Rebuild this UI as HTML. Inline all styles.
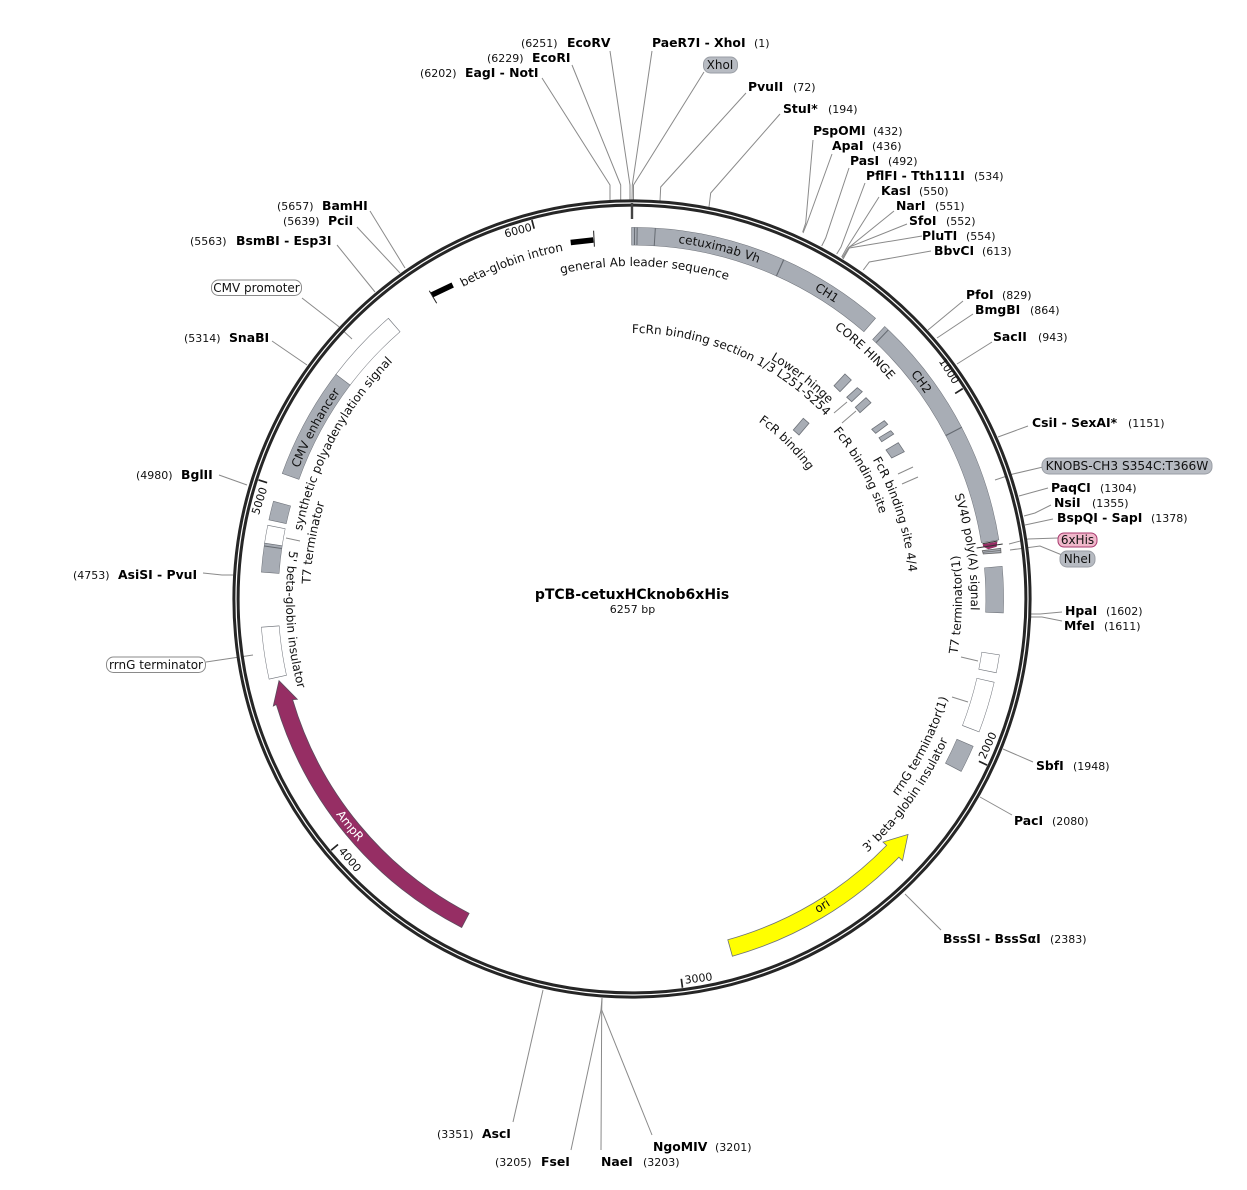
<!DOCTYPE html>
<html><head><meta charset="utf-8">
<style>
html,body{margin:0;padding:0;background:#fff}
svg{display:block}
text{font-family:"DejaVu Sans","Liberation Sans",sans-serif;font-size:11px;fill:#111}
tspan.b,text.b{font-weight:bold;font-size:12.4px;fill:#000}
text.f{font-size:12px}
text.c{text-anchor:middle}
.l{fill:none;stroke:#8a8a8a;stroke-width:1}
.o,.fg,.fy,.fw{fill:none}
.o{stroke:#6d7178;stroke-width:18.3}
.fg{stroke:#a8adb5;stroke-width:17.3}
.fw{stroke:#fff;stroke-width:17.3}
.d{stroke:#666b72;stroke-width:1}
.t{stroke:#222;stroke-width:1.7}
</style></head><body>
<svg width="1247" height="1190" viewBox="0 0 1247 1190" xmlns="http://www.w3.org/2000/svg">
<defs>
<path id="c218" d="M414 599A218 218 0 0 1 850 599"/>
<path id="c262" d="M370 599A262 262 0 0 1 894 599"/>
<path id="c266" d="M366 599A266 266 0 0 1 898 599"/>
<path id="c277" d="M355 599A277 277 0 0 1 909 599"/>
<path id="c278" d="M354 599A278 278 0 0 1 910 599"/>
<path id="c322" d="M310 599A322 322 0 0 1 954 599"/>
<path id="c333" d="M299 599A333 333 0 0 1 965 599"/>
<path id="c337" d="M295 599A337 337 0 0 1 969 599"/>
<path id="c338" d="M294 599A338 338 0 0 1 970 599"/>
<path id="c339" d="M293 599A339 339 0 0 1 971 599"/>
<path id="c355" d="M277 599A355 355 0 0 1 987 599"/>
<path id="c358" d="M274 599A358 358 0 0 1 990 599"/>
<path id="c359" d="M273 599A359 359 0 0 1 991 599"/>
<path id="u330" d="M302 599A330 330 0 0 0 962 599"/>
<path id="u331" d="M301 599A331 331 0 0 0 963 599"/>
<path id="u346" d="M286 599A346 346 0 0 0 978 599"/>
<path id="u365" d="M267 599A365 365 0 0 0 997 599"/>
<path id="u366" d="M266 599A366 366 0 0 0 998 599"/>
</defs>

<!-- site lines -->
<g class="l">
<polyline points="610,51 630,185 630,201"/>
<polyline points="652,51 632.3,185 632,201"/>
<polyline points="704,72 633.5,185 633.5,201"/>
<polyline points="572,65 620.7,185 620.7,202"/>
<polyline points="542,78 610,185 610,203"/>
<polyline points="746,93 660.7,187 660,201"/>
<polyline points="780,114 710.7,193 709,207"/>
<polyline points="813,140 805.7,223 802.7,232"/>
<polyline points="832,154 806.7,224 803,233"/>
<polyline points="849,168 825.7,238 821.7,246"/>
<polyline points="865,183 841,247 836.7,254"/>
<polyline points="879,197 846.7,248 841.7,257"/>
<polyline points="894,211 848.3,248 842.3,258"/>
<polyline points="907,224 849.3,247 843,259"/>
<polyline points="922,236 849.3,248 843,259"/>
<polyline points="931,251 869.3,262 863.3,270"/>
<polyline points="963,301 928,330"/>
<polyline points="973,314 937,338"/>
<polyline points="992,342 957,364"/>
<polyline points="1028,426 998,437"/>
<polyline points="1043,467 1013,474 995,480"/>
<polyline points="1048,488 1019,496"/>
<polyline points="1051,505 1035,513 1024,516"/>
<polyline points="1053,519 1025,525"/>
<polyline points="1058,538 1028,539 1009,544"/>
<polyline points="1062,555 1040,546 1010,550"/>
<polyline points="1062,612 1040,614 1030,614"/>
<polyline points="1062,621 1042,617 1030,617"/>
<polyline points="1033,762 1003,749"/>
<polyline points="1012,815 980,797"/>
<polyline points="941,930 905,894"/>
<polyline points="513,1122 543,990"/>
<polyline points="571,1150 601,1010 602,998"/>
<polyline points="601,1150 601.7,1010 602,998"/>
<polyline points="652,1135 601.7,1010"/>
<polyline points="370,211 405,268"/>
<polyline points="357,227 400,273"/>
<polyline points="337,245 375,292"/>
<polyline points="302,298 338,326 352,339"/>
<polyline points="272,341 307,365"/>
<polyline points="219,475 247,485"/>
<polyline points="203,573 222,575 233,575"/>
<polyline points="206,662 253,655"/>
<polyline points="286,538 300,541"/>
<polyline points="961,657 978,661"/>
<polyline points="952,697 968,702"/>
<polyline points="834,413 847,402"/>
<polyline points="842,423 856,411"/>
<polyline points="898,474 913,467"/>
<polyline points="902,484 918,477"/>
</g>

<!-- backbone -->
<circle cx="632" cy="599" r="396" fill="none" stroke="#262626" stroke-width="7.2"/>
<circle cx="632" cy="599" r="396" fill="none" stroke="#fff" stroke-width="1.2"/>

<!-- ticks -->
<g>
<line x1="632" y1="203" x2="632" y2="219" stroke="#444" stroke-width="2.4"/>
<line class="t" x1="632" y1="207" x2="632" y2="216" transform="rotate(57.54 632 599)"/>
<line class="t" x1="632" y1="207" x2="632" y2="216" transform="rotate(115.07 632 599)"/>
<line class="t" x1="632" y1="207" x2="632" y2="216" transform="rotate(172.6 632 599)"/>
<line class="t" x1="632" y1="207" x2="632" y2="216" transform="rotate(230.14 632 599)"/>
<line class="t" x1="632" y1="207" x2="632" y2="216" transform="rotate(287.68 632 599)"/>
<line class="t" x1="632" y1="207" x2="632" y2="216" transform="rotate(345.2 632 599)"/>
</g>
<text class="c" transform="translate(519 234) rotate(-14.8)">6000</text>
<text class="c" transform="translate(946 373) rotate(57.5)">1000</text>
<text class="c" transform="translate(991 747) rotate(-65)">2000</text>
<text class="c" transform="translate(699 982) rotate(-7.4)">3000</text>
<text class="c" transform="translate(347 862) rotate(50)">4000</text>
<text class="c" transform="translate(263 502) rotate(-72.3)">5000</text>

<!-- features: outlines then fills -->
<g>
<circle class="o" cx="632" cy="599" r="362.75" pathLength="360" stroke-dasharray="24.3 360" transform="rotate(-90.1 632 599)"/>
<circle class="fg" cx="632" cy="599" r="362.75" pathLength="360" stroke-dasharray="24.1 360" transform="rotate(-90 632 599)"/>
<circle class="o" cx="632" cy="599" r="362.75" pathLength="360" stroke-dasharray="17 360" transform="rotate(-66 632 599)"/>
<circle class="fg" cx="632" cy="599" r="362.75" pathLength="360" stroke-dasharray="16.8 360" transform="rotate(-65.9 632 599)"/>
<circle class="o" cx="632" cy="599" r="362.75" pathLength="360" stroke-dasharray="19.8 360" transform="rotate(-47.2 632 599)"/>
<circle class="fg" cx="632" cy="599" r="362.75" pathLength="360" stroke-dasharray="19.6 360" transform="rotate(-47.1 632 599)"/>
<circle class="o" cx="632" cy="599" r="362.75" pathLength="360" stroke-dasharray="18.5 360" transform="rotate(-27.6 632 599)"/>
<circle class="fg" cx="632" cy="599" r="362.75" pathLength="360" stroke-dasharray="18.3 360" transform="rotate(-27.5 632 599)"/>
<circle class="o" cx="632" cy="599" r="362.75" pathLength="360" stroke-dasharray="7.3 360" transform="rotate(-5.1 632 599)"/>
<circle class="fg" cx="632" cy="599" r="362.75" pathLength="360" stroke-dasharray="7.1 360" transform="rotate(-5 632 599)"/>
<circle class="o" cx="632" cy="599" r="362.75" pathLength="360" stroke-dasharray="2.9 360" transform="rotate(8.6 632 599)"/>
<circle class="fw" cx="632" cy="599" r="362.75" pathLength="360" stroke-dasharray="2.7 360" transform="rotate(8.7 632 599)"/>
<circle class="o" cx="632" cy="599" r="362.75" pathLength="360" stroke-dasharray="8.1 360" transform="rotate(12.9 632 599)"/>
<circle class="fw" cx="632" cy="599" r="362.75" pathLength="360" stroke-dasharray="7.9 360" transform="rotate(13 632 599)"/>
<circle class="o" cx="632" cy="599" r="362.75" pathLength="360" stroke-dasharray="4.4 360" transform="rotate(23.3 632 599)"/>
<circle class="fg" cx="632" cy="599" r="362.75" pathLength="360" stroke-dasharray="4.2 360" transform="rotate(23.4 632 599)"/>
<circle class="o" cx="632" cy="599" r="362.75" pathLength="360" stroke-dasharray="12.05 360" transform="rotate(217.05 632 599)"/>
<circle class="fw" cx="632" cy="599" r="362.75" pathLength="360" stroke-dasharray="11.85 360" transform="rotate(217.15 632 599)"/>
<circle class="o" cx="632" cy="599" r="362.75" pathLength="360" stroke-dasharray="17.55 360" transform="rotate(199.7 632 599)"/>
<circle class="fg" cx="632" cy="599" r="362.75" pathLength="360" stroke-dasharray="17.35 360" transform="rotate(199.8 632 599)"/>
<circle class="o" cx="632" cy="599" r="362.75" pathLength="360" stroke-dasharray="3.05 360" transform="rotate(192.25 632 599)"/>
<circle class="fg" cx="632" cy="599" r="362.75" pathLength="360" stroke-dasharray="2.85 360" transform="rotate(192.35 632 599)"/>
<circle class="o" cx="632" cy="599" r="362.75" pathLength="360" stroke-dasharray="2.95 360" transform="rotate(188.55 632 599)"/>
<circle class="fw" cx="632" cy="599" r="362.75" pathLength="360" stroke-dasharray="2.75 360" transform="rotate(188.65 632 599)"/>
<circle class="o" cx="632" cy="599" r="362.75" pathLength="360" stroke-dasharray="4.6 360" transform="rotate(184.1 632 599)"/>
<circle class="fg" cx="632" cy="599" r="362.75" pathLength="360" stroke-dasharray="4.4 360" transform="rotate(184.2 632 599)"/>
<circle class="o" cx="632" cy="599" r="362.75" pathLength="360" stroke-dasharray="8.2 360" transform="rotate(167.5 632 599)"/>
<circle class="fw" cx="632" cy="599" r="362.75" pathLength="360" stroke-dasharray="8 360" transform="rotate(167.6 632 599)"/>
</g>
<!-- dividers -->
<g>
<line class="d" x1="632" y1="227.5" x2="632" y2="245" transform="rotate(0.4 632 599)"/>
<line class="d" x1="632" y1="227.5" x2="632" y2="245" transform="rotate(0.8 632 599)"/>
<line class="d" x1="632" y1="227.5" x2="632" y2="245" transform="rotate(3.6 632 599)"/>
<line class="d" x1="632" y1="227.5" x2="632" y2="245" transform="rotate(24.1 632 599)"/>
<line class="d" x1="632" y1="227.5" x2="632" y2="245" transform="rotate(43.6 632 599)"/>
<line class="d" x1="632" y1="227.5" x2="632" y2="245" transform="rotate(62.5 632 599)"/>
<line class="d" x1="632" y1="227.5" x2="632" y2="245" transform="rotate(278.2 632 599)"/>
</g>

<!-- arrows -->
<path d="M732.4 956.2A371 371 0 0 0 898.9 857.2L902.5 860.7L908 834.4L883 842L886.6 845.4A354 354 0 0 1 727.8 939.8Z" fill="#ffff00" stroke="#6d7178" stroke-width=".8"/>
<path d="M461.7 927.5A370.5 370.5 0 0 1 276.3 704.5L273.3 706L279 680.7L297.3 699.3L292.6 699.6A354 354 0 0 0 469.1 913.3Z" fill="#962e64" stroke="#5c4a5c" stroke-width=".8"/>

<!-- black leader/intron -->
<path d="M570.7 242.5L593.3 240" stroke="#000" stroke-width="5.5" fill="none"/>
<line x1="593.6" y1="230.7" x2="594.4" y2="246.7" stroke="#222" stroke-width="1"/>
<path d="M431.7 295L452.7 285" stroke="#000" stroke-width="5.5" fill="none"/>
<line x1="429.3" y1="290.7" x2="436.7" y2="303.3" stroke="#222" stroke-width="1"/>

<!-- 6xHis & NheI -->
<polygon points="982.3,550.7 1000.7,548.3 1001,552.7 983.3,554" fill="#a8adb5" stroke="#666" stroke-width=".8"/>
<line x1="982.6" y1="552.3" x2="1000.8" y2="550.4" stroke="#666" stroke-width=".6"/>
<polygon points="982.7,544.3 997.3,541.7 996.7,546.7 988.3,549.3 983.3,546.7" fill="#962e64"/>
<line x1="976.7" y1="548" x2="1002.7" y2="544" stroke="#333" stroke-width="1"/>
<line x1="982.5" y1="543.7" x2="997.5" y2="541" stroke="#333" stroke-width="1"/>

<!-- small inner features -->
<g fill="#a8adb5" stroke="#6d7178" stroke-width=".8">
<polygon points="845,374 851.3,380 840,391.7 834,385.7"/>
<polygon points="857.3,387.7 862.3,391.7 851.7,401.7 846.7,397.3"/>
<polygon points="866,397.7 871,402.7 860,412.7 855.3,407.3"/>
<polygon points="884.3,420.7 887.7,424.3 875.7,433.3 871.7,429.3"/>
<polygon points="890.7,430.7 893.7,434 881.7,441.7 879,437.7"/>
<polygon points="898.3,442.7 904.3,451.7 891.7,458 886,450"/>
<polygon points="803.3,418.3 809,423.3 799,435 793.3,430"/>
</g>

<!-- curved labels -->
<text class="f c" transform="rotate(14 632 599)"><textPath href="#c359" startOffset="50%">cetuximab Vh</textPath></text>
<text class="f c" transform="rotate(32.5 632 599)"><textPath href="#c359" startOffset="50%">CH1</textPath></text>
<text class="f c" transform="rotate(53.1 632 599)"><textPath href="#c358" startOffset="50%">CH2</textPath></text>
<text class="f c" transform="rotate(43.2 632 599)"><textPath href="#c338" startOffset="50%">CORE HINGE</textPath></text>
<text class="f c" transform="rotate(2.2 632 599)"><textPath href="#c333" startOffset="50%">general Ab leader sequence</textPath></text>
<text class="f c" transform="rotate(-19.8 632 599)"><textPath href="#c355" startOffset="50%">beta-globin intron</textPath></text>
<text class="f c" transform="rotate(23.3 632 599)"><textPath href="#c266" startOffset="50%">FcRn binding section 1/3 L251-S254</textPath></text>
<text class="f c" transform="rotate(37.6 632 599)"><textPath href="#c277" startOffset="50%">Lower hinge</textPath></text>
<text class="f c" transform="rotate(60.6 632 599)"><textPath href="#c262" startOffset="50%">FcR binding site</textPath></text>
<text class="f c" transform="rotate(72.2 632 599)"><textPath href="#c278" startOffset="50%">FcR binding site 4/4</textPath></text>
<text class="f c" transform="rotate(44.7 632 599)"><textPath href="#c218" startOffset="50%">FcR binding</textPath></text>
<text class="f c" transform="rotate(82 632 599)"><textPath href="#c339" startOffset="50%">SV40 poly(A) signal</textPath></text>
<text class="f c" transform="rotate(298.2 632 599)"><textPath href="#c337" startOffset="50%">synthetic polyadenylation signal</textPath></text>
<text class="f c" transform="rotate(280 632 599)"><textPath href="#c322" startOffset="50%">T7 terminator</textPath></text>
<text class="f c" transform="rotate(298.4 632 599)"><textPath href="#c358" startOffset="50%">CMV enhancer</textPath></text>
<text class="f c" transform="rotate(86.5 632 599)"><textPath href="#u346" startOffset="50%">5' beta-globin insulator</textPath></text>
<text class="f c" transform="rotate(-89 632 599)"><textPath href="#u330" startOffset="50%">T7 terminator(1)</textPath></text>
<text class="f c" transform="rotate(-63 632 599)"><textPath href="#u331" startOffset="50%">rrnG terminator(1)</textPath></text>
<text class="f c" transform="rotate(-54.4 632 599)"><textPath href="#u346" startOffset="50%">3' beta-globin insulator</textPath></text>
<text class="f c" transform="rotate(-31.8 632 599)"><textPath href="#u365" startOffset="50%">ori</textPath></text>
<text class="f c" style="fill:#fff" transform="rotate(51.2 632 599)"><textPath href="#u366" startOffset="50%">AmpR</textPath></text>

<!-- pills -->
<g stroke-width="1">
<rect x="703.5" y="57" width="34" height="16" rx="7" fill="#b7bbc2" stroke="#9a9ea5"/>
<rect x="1042" y="458" width="170" height="16" rx="7" fill="#b7bbc2" stroke="#9a9ea5"/>
<rect x="1060" y="551" width="35" height="16" rx="7" fill="#b7bbc2" stroke="#9a9ea5"/>
<rect x="1058" y="533" width="39" height="14" rx="6" fill="#f0b8cb" stroke="#a8386e"/>
<rect x="211.5" y="280" width="90" height="15.5" rx="7" fill="#fff" stroke="#8a8a8a"/>
<rect x="106.5" y="657" width="99" height="15.5" rx="7" fill="#fff" stroke="#8a8a8a"/>
</g>
<text class="f c" x="720" y="69">XhoI</text>
<text class="f c" style="font-size:12.2px" x="1127" y="470">KNOBS-CH3 S354C:T366W</text>
<text class="f c" x="1077.5" y="563">NheI</text>
<text class="f c" x="1077.5" y="544">6xHis</text>
<text class="f c" x="256.5" y="292">CMV promoter</text>
<text class="f c" x="156" y="669">rrnG terminator</text>

<!-- enzyme labels: left side (number, then name) -->
<text x="521" y="47">(6251)</text><text class="b" x="567" y="47">EcoRV</text>
<text x="487" y="62">(6229)</text><text class="b" x="532" y="62">EcoRI</text>
<text x="420" y="77">(6202)</text><text class="b" x="465" y="77">EagI - NotI</text>
<text x="277" y="210">(5657)</text><text class="b" x="322" y="210">BamHI</text>
<text x="283" y="225">(5639)</text><text class="b" x="328" y="225">PciI</text>
<text x="190" y="245">(5563)</text><text class="b" x="236" y="245">BsmBI - Esp3I</text>
<text x="184" y="342">(5314)</text><text class="b" x="229" y="342">SnaBI</text>
<text x="136" y="479">(4980)</text><text class="b" x="181" y="479">BglII</text>
<text x="73" y="579">(4753)</text><text class="b" x="118" y="579">AsiSI - PvuI</text>
<text x="437" y="1138">(3351)</text><text class="b" x="482" y="1138">AscI</text>
<text x="495" y="1166">(3205)</text><text class="b" x="541" y="1166">FseI</text>

<!-- enzyme labels: right side -->
<text class="b" x="652" y="47">PaeR7I - XhoI</text><text x="754" y="47">(1)</text>
<text class="b" x="748" y="91">PvuII</text><text x="793" y="91">(72)</text>
<text class="b" x="783" y="113">StuI*</text><text x="828" y="113">(194)</text>
<text class="b" x="813" y="135">PspOMI</text><text x="873" y="135">(432)</text>
<text class="b" x="832" y="150">ApaI</text><text x="872" y="150">(436)</text>
<text class="b" x="850" y="165">PasI</text><text x="888" y="165">(492)</text>
<text class="b" x="866" y="180">PflFI - Tth111I</text><text x="974" y="180">(534)</text>
<text class="b" x="881" y="195">KasI</text><text x="919" y="195">(550)</text>
<text class="b" x="896" y="210">NarI</text><text x="935" y="210">(551)</text>
<text class="b" x="909" y="225">SfoI</text><text x="946" y="225">(552)</text>
<text class="b" x="922" y="240">PluTI</text><text x="966" y="240">(554)</text>
<text class="b" x="934" y="255">BbvCI</text><text x="982" y="255">(613)</text>
<text class="b" x="966" y="299">PfoI</text><text x="1002" y="299">(829)</text>
<text class="b" x="975" y="314">BmgBI</text><text x="1030" y="314">(864)</text>
<text class="b" x="993" y="341">SacII</text><text x="1038" y="341">(943)</text>
<text class="b" x="1032" y="427">CsiI - SexAI*</text><text x="1128" y="427">(1151)</text>
<text class="b" x="1051" y="492">PaqCI</text><text x="1100" y="492">(1304)</text>
<text class="b" x="1054" y="507">NsiI</text><text x="1092" y="507">(1355)</text>
<text class="b" x="1057" y="522">BspQI - SapI</text><text x="1151" y="522">(1378)</text>
<text class="b" x="1065" y="615">HpaI</text><text x="1106" y="615">(1602)</text>
<text class="b" x="1064" y="630">MfeI</text><text x="1104" y="630">(1611)</text>
<text class="b" x="1036" y="770">SbfI</text><text x="1073" y="770">(1948)</text>
<text class="b" x="1014" y="825">PacI</text><text x="1052" y="825">(2080)</text>
<text class="b" x="943" y="943">BssSI - BssSαI</text><text x="1050" y="943">(2383)</text>
<text class="b" x="601" y="1166">NaeI</text><text x="643" y="1166">(3203)</text>
<text class="b" x="653" y="1151">NgoMIV</text><text x="715" y="1151">(3201)</text>

<!-- title -->
<text class="c" style="font-weight:bold;font-size:14px;fill:#000" x="632" y="599">pTCB-cetuxHCknob6xHis</text>
<text class="c" x="632.5" y="613">6257 bp</text>
</svg>
</body></html>
